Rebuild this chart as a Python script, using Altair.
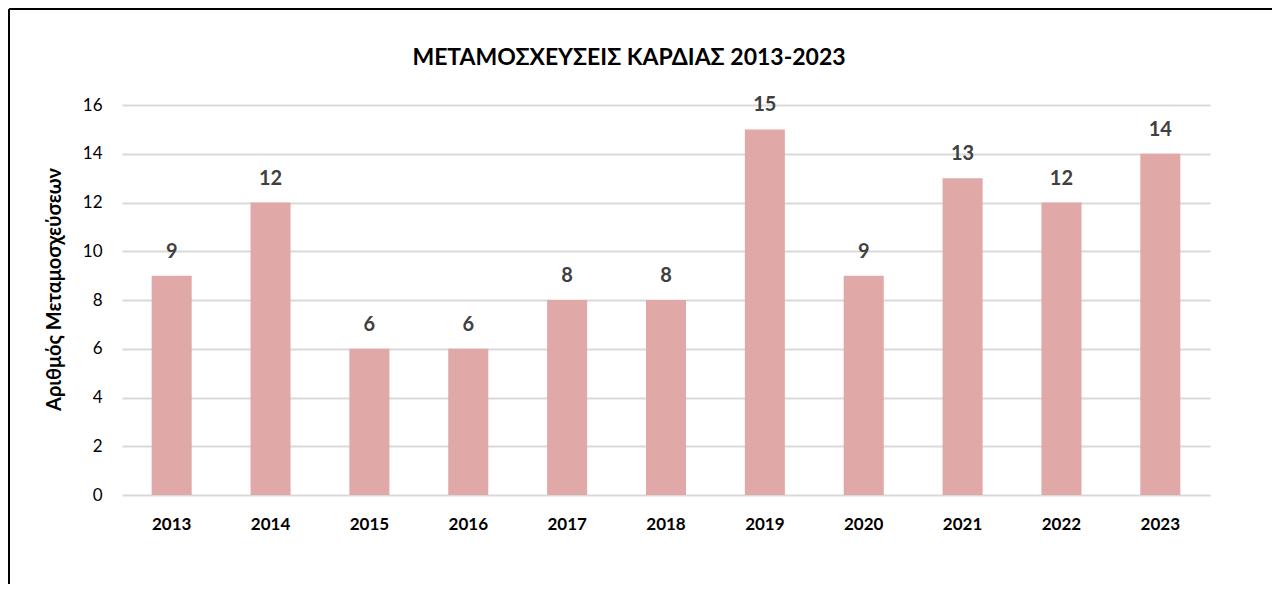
import altair as alt
import pandas as pd

years = ["2013", "2014", "2015", "2016", "2017", "2018", "2019", "2020", "2021", "2022", "2023"]
transplants = [9, 12, 6, 6, 8, 8, 15, 9, 13, 12, 14]

title_text = "ΜΕΤΑΜΟΣΧΕΥΣΕΙΣ ΚΑΡΔΙΑΣ 2013-2023"
y_title = "Αριθμός Μεταμοσχεύσεων"
y_ticks = [0, 2, 4, 6, 8, 10, 12, 14, 16]

df = pd.DataFrame({"year": years, "value": transplants})
title_df = pd.DataFrame({"t": [title_text]})

FONT = "Lato"
W, H = 1088, 390
PAD = {"left": 114, "top": 97, "right": 62, "bottom": 89}

x = alt.X("year:N", sort=years,
          scale=alt.Scale(paddingInner=0.595, paddingOuter=0.3),
          axis=alt.Axis(title=None, labelAngle=0, labelFont=FONT, labelFontSize=17,
                        labelFontWeight="bold", labelColor="#000000", labelPadding=21,
                        ticks=False, domain=False))
y = alt.Y("value:Q",
          scale=alt.Scale(domain=[0, 16], nice=False),
          axis=alt.Axis(title=y_title, values=y_ticks, labelFont=FONT, labelFontSize=17,
                        labelColor="#000000", labelPadding=20, ticks=False, domain=False,
                        gridColor="#d9d9d9", gridWidth=2,
                        titleFont=FONT, titleFontSize=20, titleFontWeight="bold",
                        titleColor="#000000", titlePadding=18, titleY=184))

bars = alt.Chart(df).mark_bar(color="#e0a8a7").encode(x=x, y=y)

labels = alt.Chart(df).mark_text(dy=-24, font=FONT, fontSize=20, fontWeight="bold",
                                 color="#404040").encode(
    x=alt.X("year:N", sort=years), y="value:Q", text="value:Q")

title = alt.Chart(title_df).mark_text(font=FONT, fontSize=23, fontWeight="bold",
                                      color="#000000", align="center", baseline="middle",
                                      clip=False).encode(
    x=alt.value(507), y=alt.value(-47), text="t:N")

frame_left = alt.Chart(df).mark_rule(color="#000000", strokeWidth=2, clip=False).encode(
    x=alt.value(-PAD["left"] + 1), y=alt.value(-PAD["top"] + 1), y2=alt.value(H + PAD["bottom"]))
frame_top = alt.Chart(df).mark_rule(color="#000000", strokeWidth=2, clip=False).encode(
    x=alt.value(-PAD["left"] + 1), x2=alt.value(W + PAD["right"]), y=alt.value(-PAD["top"] + 1))

chart = alt.layer(bars, labels, title, frame_left, frame_top).properties(
    width=W, height=H,
    padding=PAD,
    autosize=alt.AutoSizeParams(type="none"),
).configure_view(stroke=None).configure_axisX(grid=False)

chart.save("out.html", embed_options={"renderer": "svg", "actions": False})
